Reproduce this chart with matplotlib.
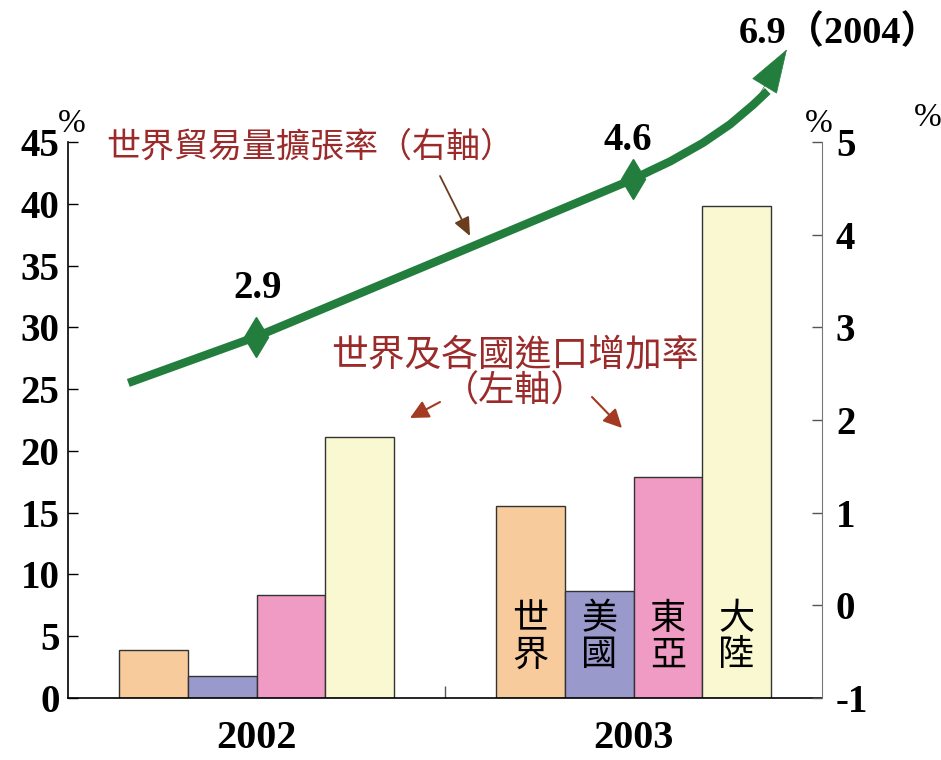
import matplotlib
matplotlib.use("Agg")
import matplotlib.pyplot as plt
import numpy as np

# ---------------- data ----------------
years = ['2002', '2003']
regions = ['世界', '美國', '東亞', '大陸']
import_2002 = [3.9, 1.8, 8.3, 21.1]
import_2003 = [15.5, 8.7, 17.9, 39.8]
bar_colors = ['#F8CB9C', '#9999CC', '#F09BC4', '#FAF8D0']

left_ticks = [0, 5, 10, 15, 20, 25, 30, 35, 40, 45]
right_ticks = [-1, 0, 1, 2, 3, 4, 5]

# world trade volume growth (right axis)
trade_x = [0.16, 0.5, 1.5, 1.545, 1.597, 1.684, 1.756, 1.817, 1.856]
trade_vals = [2.4, 2.9, 4.6, 4.69, 4.79, 4.99, 5.19, 5.40, 5.55]
marker_x = [0.5, 1.5]
marker_vals = [2.9, 4.6]
arrow_tip = (1.907, 6.0)

GREEN = '#237E3E'
DARKRED = '#9B2B2B'
SERIF = ['Liberation Serif', 'Noto Sans CJK TC']
CJK = ['Noto Sans CJK TC', 'DejaVu Sans']

W, H = 941, 760
fig = plt.figure(figsize=(W / 100, H / 100), dpi=100)

def px(x, y):
    return (x / W, 1 - y / H)

ax = fig.add_axes([68 / W, 1 - 698 / H, (822 - 68) / W, (698 - 142) / H])
ax2 = ax.twinx()

# ---------------- bars ----------------
w = 0.182
offsets = np.array([-1.5, -0.5, 0.5, 1.5]) * w
for gi, vals in enumerate([import_2002, import_2003]):
    center = gi + 0.5
    for i, v in enumerate(vals):
        ax.bar(center + offsets[i], v, width=w, color=bar_colors[i],
               edgecolor='#333333', linewidth=1.0, zorder=2)

# region labels inside 2003 bars
for i, name in enumerate(regions):
    ax.text(1.5 + offsets[i], 4.9, name[0] + '\n' + name[1], ha='center', va='center',
            fontsize=26, family=CJK, linespacing=1.0, color='black', zorder=3)

ax.set_xlim(0, 2)
ax.set_ylim(0, 45)
ax.set_yticks(left_ticks)
ax.set_yticklabels([str(t) for t in left_ticks], fontsize=28,
                   family=SERIF, fontweight='bold')
ax.set_xticks([0.5, 1.5])
ax.set_xticklabels(years, fontsize=29, family=SERIF, fontweight='bold')
ax.tick_params(axis='x', length=0, pad=16)
ax.set_xticks([1.0], minor=True)
ax.tick_params(axis='x', which='minor', direction='in', length=9, width=1, color='#555555')
ax.tick_params(axis='y', direction='in', length=7, width=1, pad=6)

ax2.set_ylim(-1, 5)
ax2.set_yticks(right_ticks)
ax2.set_yticklabels([str(t) for t in right_ticks], fontsize=28,
                    family=SERIF, fontweight='bold')
ax2.tick_params(axis='y', direction='in', length=7, width=1, pad=10, color='#555555')

for a in (ax, ax2):
    a.spines['top'].set_visible(False)
    a.patch.set_visible(False)
ax.spines['right'].set_visible(False)
ax2.spines['left'].set_visible(False)
ax2.spines['bottom'].set_visible(False)
ax2.spines['right'].set_color('#777777')
ax.spines['left'].set_color('black')
ax.spines['bottom'].set_color('black')
ax.spines['left'].set_linewidth(1.2)
ax.spines['bottom'].set_linewidth(1.2)

# ---------------- trade line ----------------
ax2.plot(trade_x, trade_vals, color=GREEN, lw=6, solid_capstyle='butt',
         solid_joinstyle='round', clip_on=False, zorder=4)
ax2.plot(marker_x, marker_vals, linestyle='none', marker='d', markersize=20,
         color=GREEN, clip_on=False, zorder=5)
ax2.annotate('', xy=arrow_tip, xytext=(trade_x[-2], trade_vals[-2]),
             arrowprops=dict(arrowstyle='-|>,head_length=1.5,head_width=0.5',
                             mutation_scale=20, color=GREEN, lw=0.5,
                             shrinkA=0, shrinkB=0),
             annotation_clip=False, zorder=5)

# value labels
fig.text(*px(258, 289), '2.9', ha='center', va='center', fontsize=28,
         family=SERIF, fontweight='bold')
fig.text(*px(628, 140), '4.6', ha='center', va='center', fontsize=28,
         family=SERIF, fontweight='bold')
fig.text(*px(940, 33), '6.9（2004）', ha='right', va='center', fontsize=27.5,
         family=SERIF, fontweight='bold')

# percent signs
for x, y in [(72, 124), (819, 124), (928, 118)]:
    fig.text(*px(x, y), '%', ha='center', va='center', fontsize=24,
             family=['Liberation Serif'])

# annotations
fig.text(*px(310, 147), '世界貿易量擴張率（右軸）', ha='center', va='center',
         fontsize=24.5, family=CJK, color=DARKRED)
ax.annotate('', xy=px(470, 236), xytext=px(440, 176), xycoords='figure fraction',
            textcoords='figure fraction',
            arrowprops=dict(arrowstyle='-|>,head_length=0.8,head_width=0.35',
                            mutation_scale=14, color='#6B3D1F', lw=1.3,
                            shrinkA=0, shrinkB=0))

fig.text(*px(515, 355), '世界及各國進口增加率', ha='center', va='center',
         fontsize=26.5, family=CJK, color=DARKRED)
fig.text(*px(515, 392), '（左軸）', ha='center', va='center',
         fontsize=26, family=CJK, color=DARKRED)
for (x0, y0), (x1, y1) in [((440, 402), (410, 418)), ((592, 397), (622, 428))]:
    ax.annotate('', xy=px(x1, y1), xytext=px(x0, y0), xycoords='figure fraction',
                textcoords='figure fraction',
                arrowprops=dict(arrowstyle='-|>,head_length=0.8,head_width=0.4',
                                mutation_scale=14, color='#A33A22', lw=1.5,
                                shrinkA=0, shrinkB=0))

fig.savefig('out.png', dpi=100, facecolor='white')
